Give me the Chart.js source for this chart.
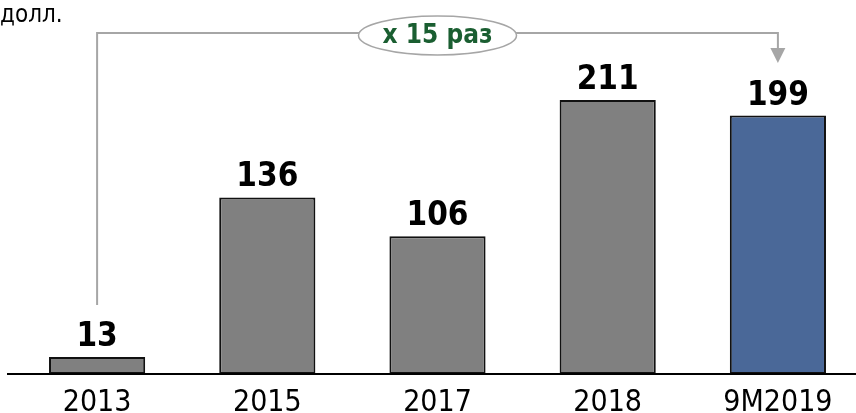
<!DOCTYPE html>
<html>
<head>
<meta charset="utf-8">
<script src="https://cdn.jsdelivr.net/npm/chart.js@4"></script>
<style>
    html, body { margin: 0; padding: 0; background: #fff; overflow: hidden; }
    #wrap { position: relative; width: 856px; height: 413px; overflow: hidden; }
    #box { position: absolute; left: 0; top: 0; width: 870px; height: 413px; }
    #unit { position: absolute; left: 0; top: 0; font: 24px 'DejaVu Sans Condensed', 'DejaVu Sans', sans-serif; color: #000; }
</style>
</head>
<body>
<div id="wrap">
    <div id="box"><canvas id="chart"></canvas></div>
    <div id="unit">долл.</div>
</div>
<script>
// Данные графика
const categories = ['2013', '2015', '2017', '2018', '9M2019'];
const values = [13, 136, 106, 211, 199];
const barColors = ['#808080', '#808080', '#808080', '#808080', '#4a6898'];
const growthLabel = 'x 15 раз';

const labelFont = "bold 33px 'DejaVu Sans Condensed', 'DejaVu Sans', sans-serif";

// Подписи над столбцами, скобка и линия оси
const annotations = {
    id: 'annotations',
    afterDatasetsDraw(chart) {
        const ctx = chart.ctx;
        const meta = chart.getDatasetMeta(0);
        const area = chart.chartArea;

        ctx.save();
        // ось X
        ctx.strokeStyle = '#000';
        ctx.lineWidth = 2;
        ctx.beginPath();
        ctx.moveTo(7, area.bottom);
        ctx.lineTo(chart.width, area.bottom);
        ctx.stroke();

        // значения над столбцами
        ctx.fillStyle = '#000';
        ctx.font = labelFont;
        ctx.textAlign = 'center';
        ctx.textBaseline = 'alphabetic';
        meta.data.forEach((bar, i) => {
            ctx.fillText(values[i], bar.x, bar.y - 11);
        });

        // скобка от первого к последнему столбцу
        const first = meta.data[0];
        const last = meta.data[meta.data.length - 1];
        const lineY = 33;
        ctx.strokeStyle = '#a6a6a6';
        ctx.lineWidth = 2;
        ctx.beginPath();
        ctx.moveTo(first.x, 305);
        ctx.lineTo(first.x, lineY);
        ctx.lineTo(last.x, lineY);
        ctx.lineTo(last.x, 49);
        ctx.stroke();
        ctx.fillStyle = '#a6a6a6';
        ctx.beginPath();
        ctx.moveTo(last.x - 7.5, 48);
        ctx.lineTo(last.x + 7.5, 48);
        ctx.lineTo(last.x, 63);
        ctx.closePath();
        ctx.fill();

        // эллипс с кратностью роста
        const cx = (first.x + last.x) / 2;
        ctx.fillStyle = '#fff';
        ctx.strokeStyle = '#a6a6a6';
        ctx.lineWidth = 1.5;
        ctx.beginPath();
        ctx.ellipse(cx, 35.5, 79, 19.5, 0, 0, Math.PI * 2);
        ctx.fill();
        ctx.stroke();
        ctx.fillStyle = '#1a5e31';
        ctx.font = "bold 26px 'DejaVu Sans Condensed', 'DejaVu Sans', sans-serif";
        ctx.textBaseline = 'middle';
        ctx.fillText(growthLabel, cx, 36);
        ctx.restore();
    }
};

new Chart(document.getElementById('chart'), {
    type: 'bar',
    data: {
        labels: categories,
        datasets: [{
            data: values,
            backgroundColor: barColors,
            borderColor: '#111',
            borderWidth: 2,
            borderSkipped: false,
            barPercentage: 0.565,
            categoryPercentage: 1
        }]
    },
    options: {
        responsive: true,
        maintainAspectRatio: false,
        animation: false,
        layout: { padding: { left: 12, right: 7, top: 0, bottom: 0 } },
        plugins: {
            legend: { display: false },
            tooltip: { enabled: false }
        },
        scales: {
            x: {
                grid: { display: false, drawTicks: false },
                border: { display: false },
                ticks: {
                    color: '#000',
                    padding: 11,
                    font: { family: "'Liberation Sans Narrow', 'DejaVu Sans Condensed', sans-serif", size: 30 }
                },
                afterFit(scale) { scale.height = 39; }
            },
            y: {
                display: false,
                min: 0,
                max: 288
            }
        }
    },
    plugins: [annotations]
});
</script>
</body>
</html>
